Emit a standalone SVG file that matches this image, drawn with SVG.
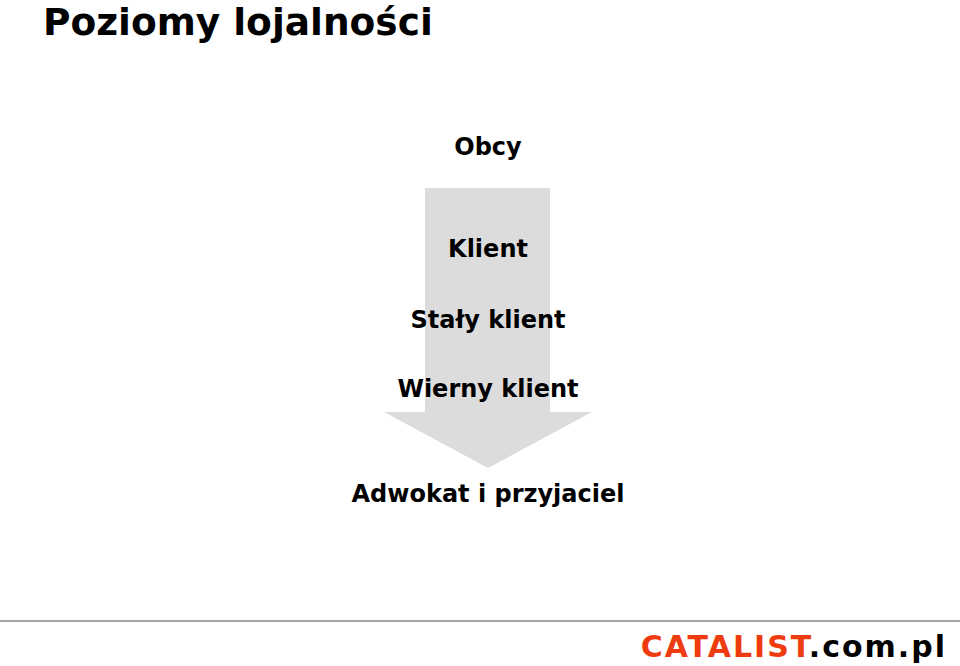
<svg xmlns="http://www.w3.org/2000/svg" width="960" height="666" viewBox="0 0 960 666">
<style>
.t{font-family:"DejaVu Sans","Verdana",sans-serif;font-weight:bold;fill:#000}
.lv{font-size:24px;text-anchor:middle}
</style>
<rect width="960" height="666" fill="#fff"/>
<text class="t" x="43" y="35" font-size="37.5">Poziomy lojalności</text>
<g id="arrow">
<polygon points="425,188 550,188 550,412 592,412 488,468 384,412 425,412" fill="#dcdcdc"/>
</g>
<g id="obcy"><text class="t lv" x="488" y="155">Obcy</text></g>
<g id="klient"><text class="t lv" x="488" y="257">Klient</text></g>
<g id="staly"><text class="t lv" x="488" y="328">Stały klient</text></g>
<g id="wierny"><text class="t lv" x="488" y="397">Wierny klient</text></g>
<g id="adwokat"><text class="t lv" x="488" y="502">Adwokat i przyjaciel</text></g>
<line x1="0" y1="621" x2="960" y2="621" stroke="#a6a6a6" stroke-width="2"/>
<text class="t" x="947" y="657" font-size="30" letter-spacing="2" text-anchor="end"><tspan fill="#ee3b0f">CATALIST</tspan>.com.pl</text>
</svg>
